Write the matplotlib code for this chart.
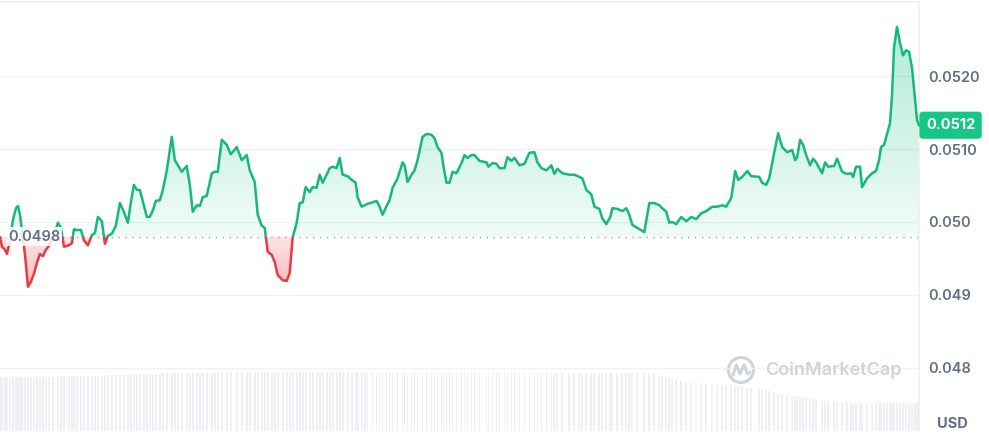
import numpy as np
import matplotlib
matplotlib.use("Agg")
import matplotlib.pyplot as plt
import matplotlib.colors as mcolors
from matplotlib.patches import Rectangle, Circle
from matplotlib.path import Path
from matplotlib.transforms import blended_transform_factory

plt.rcParams['font.family'] = ['Inter', 'DejaVu Sans']

# time steps (arbitrary units, left -> right) and price in USD
t = [0, 2, 5, 7, 10, 13, 16, 18, 20, 22,
     25, 28, 31, 34, 37, 40, 43, 46, 49, 53,
     58, 61, 64, 69, 72, 74, 77, 81, 84, 88,
     92, 95, 98, 102, 105, 108, 112, 116, 120, 124,
     128, 131, 134, 137, 140, 144, 147, 150, 153, 156,
     160, 163, 167, 172, 175, 178, 182, 187, 190, 193,
     197, 200, 203, 207, 212, 215, 218, 222, 227, 231,
     237, 242, 247, 250, 255, 258, 262, 265, 268, 272,
     275, 278, 283, 287, 290, 293, 297, 300, 303, 306,
     310, 313, 317, 320, 323, 327, 330, 333, 337, 340,
     343, 348, 352, 356, 358, 362, 365, 368, 373, 377,
     380, 383, 387, 390, 393, 398, 403, 405, 408, 412,
     415, 418, 423, 427, 432, 435, 438, 442, 444, 447,
     450, 453, 457, 462, 465, 468, 472, 475, 480, 487,
     489, 493, 497, 500, 505, 508, 512, 515, 520, 525,
     530, 535, 538, 542, 547, 552, 555, 558, 563, 570,
     575, 580, 583, 587, 592, 595, 600, 603, 607, 611,
     613, 618, 623, 627, 630, 633, 638, 645, 650, 655,
     660, 663, 667, 670, 673, 677, 682, 687, 692, 697,
     702, 707, 713, 718, 723, 727, 732, 736, 739, 743,
     748, 752, 760, 763, 767, 770, 775, 779, 783, 788,
     793, 796, 798, 801, 804, 807, 811, 814, 817, 823,
     826, 829, 835, 838, 843, 848, 852, 854, 857, 861,
     863, 868, 873, 877, 880, 882, 885, 888, 891, 893,
     895, 898, 901, 904, 907, 910, 913, 916, 918, 920]

price = [0.04979, 0.04966, 0.04962, 0.04956, 0.04975, 0.05003, 0.05019, 0.05022, 0.05010, 0.04989,
         0.04955, 0.04911, 0.04918, 0.04929, 0.04944, 0.04956, 0.04953, 0.04962, 0.04967, 0.04978,
         0.04999, 0.04992, 0.04966, 0.04968, 0.04971, 0.04990, 0.04989, 0.04989, 0.04975, 0.04968,
         0.04982, 0.04985, 0.05007, 0.05001, 0.04970, 0.04981, 0.04984, 0.04995, 0.05026, 0.05014,
         0.04999, 0.05027, 0.05051, 0.05044, 0.05044, 0.05023, 0.05007, 0.05007, 0.05016, 0.05029,
         0.05030, 0.05044, 0.05071, 0.05117, 0.05085, 0.05078, 0.05069, 0.05077, 0.05051, 0.05014,
         0.05023, 0.05022, 0.05034, 0.05036, 0.05067, 0.05069, 0.05069, 0.05113, 0.05106, 0.05093,
         0.05103, 0.05085, 0.05092, 0.05071, 0.05055, 0.05010, 0.04995, 0.04992, 0.04959, 0.04955,
         0.04945, 0.04927, 0.04920, 0.04919, 0.04930, 0.04979, 0.04999, 0.05026, 0.05027, 0.05048,
         0.05041, 0.05048, 0.05047, 0.05065, 0.05054, 0.05065, 0.05074, 0.05076, 0.05074, 0.05088,
         0.05065, 0.05063, 0.05058, 0.05054, 0.05034, 0.05021, 0.05023, 0.05025, 0.05027, 0.05029,
         0.05021, 0.05010, 0.05022, 0.05030, 0.05047, 0.05060, 0.05082, 0.05078, 0.05055, 0.05065,
         0.05071, 0.05085, 0.05117, 0.05121, 0.05120, 0.05115, 0.05103, 0.05095, 0.05076, 0.05054,
         0.05054, 0.05069, 0.05067, 0.05081, 0.05092, 0.05088, 0.05092, 0.05092, 0.05084, 0.05082,
         0.05076, 0.05081, 0.05080, 0.05074, 0.05074, 0.05089, 0.05084, 0.05088, 0.05078, 0.05080,
         0.05095, 0.05096, 0.05082, 0.05074, 0.05071, 0.05078, 0.05066, 0.05073, 0.05067, 0.05065,
         0.05065, 0.05062, 0.05060, 0.05044, 0.05038, 0.05021, 0.05018, 0.05005, 0.04997, 0.05007,
         0.05019, 0.05018, 0.05015, 0.05019, 0.05010, 0.04996, 0.04992, 0.04986, 0.05026, 0.05026,
         0.05023, 0.05019, 0.05014, 0.04999, 0.05000, 0.04997, 0.05007, 0.05001, 0.05007, 0.05004,
         0.05012, 0.05015, 0.05021, 0.05021, 0.05023, 0.05021, 0.05033, 0.05070, 0.05058, 0.05062,
         0.05070, 0.05063, 0.05062, 0.05054, 0.05051, 0.05060, 0.05095, 0.05122, 0.05103, 0.05096,
         0.05099, 0.05085, 0.05089, 0.05113, 0.05106, 0.05092, 0.05078, 0.05087, 0.05082, 0.05067,
         0.05082, 0.05076, 0.05077, 0.05087, 0.05069, 0.05066, 0.05067, 0.05062, 0.05076, 0.05076,
         0.05048, 0.05060, 0.05067, 0.05070, 0.05085, 0.05103, 0.05106, 0.05121, 0.05136, 0.05174,
         0.05240, 0.05268, 0.05246, 0.05229, 0.05236, 0.05234, 0.05212, 0.05168, 0.05140, 0.05133]

# 24h volume at each point (millions)
volume = [5.4, 5.4, 5.4, 5.4, 5.4, 5.4, 5.4, 5.4, 5.4, 5.4,
          5.4, 5.4, 5.4, 5.4, 5.4, 5.4, 5.4, 5.4, 5.4, 5.4,
          5.5, 5.5, 5.5, 5.5, 5.5, 5.5, 5.5, 5.5, 5.5, 5.5,
          5.5, 5.5, 5.5, 5.5, 5.5, 5.6, 5.6, 5.6, 5.6, 5.6,
          5.7, 5.7, 5.7, 5.7, 5.7, 5.7, 5.7, 5.7, 5.7, 5.7,
          5.8, 5.8, 5.8, 5.8, 5.8, 5.8, 5.8, 5.8, 5.8, 5.8,
          5.8, 5.8, 5.8, 5.8, 5.8, 5.8, 5.9, 5.9, 5.9, 5.9,
          5.9, 5.9, 5.9, 5.9, 5.9, 5.9, 5.9, 5.9, 5.9, 5.9,
          5.9, 5.9, 5.9, 5.9, 5.9, 5.9, 5.9, 5.9, 5.9, 5.9,
          5.9, 5.9, 5.9, 5.9, 5.9, 5.9, 5.9, 5.9, 5.9, 5.9,
          5.9, 5.9, 5.9, 5.9, 5.9, 5.9, 5.9, 5.9, 5.9, 5.9,
          5.9, 5.9, 5.9, 5.9, 5.9, 5.9, 5.9, 5.9, 5.8, 5.8,
          5.8, 5.8, 5.8, 5.8, 5.8, 5.8, 5.8, 5.8, 5.8, 5.8,
          5.8, 5.8, 5.8, 5.8, 5.8, 5.8, 5.8, 5.8, 5.8, 5.8,
          5.8, 5.8, 5.8, 5.8, 5.8, 5.8, 5.8, 5.8, 5.8, 5.8,
          5.8, 5.8, 5.8, 5.8, 5.8, 5.8, 5.8, 5.8, 5.8, 5.8,
          5.8, 5.8, 5.8, 5.8, 5.8, 5.8, 5.8, 5.8, 5.8, 5.8,
          5.8, 5.8, 5.8, 5.8, 5.8, 5.8, 5.8, 5.8, 5.7, 5.7,
          5.6, 5.5, 5.4, 5.3, 5.2, 5.1, 5.0, 4.9, 4.8, 4.8,
          4.7, 4.7, 4.7, 4.6, 4.6, 4.6, 4.6, 4.5, 4.5, 4.4,
          4.3, 4.3, 4.2, 4.1, 4.1, 4.0, 3.9, 3.8, 3.7, 3.6,
          3.5, 3.5, 3.4, 3.4, 3.3, 3.3, 3.2, 3.2, 3.1, 3.0,
          3.0, 3.0, 2.9, 2.9, 2.9, 2.9, 2.8, 2.8, 2.8, 2.8,
          2.8, 2.8, 2.8, 2.8, 2.8, 2.8, 2.8, 2.8, 2.8, 2.8,
          2.8, 2.8, 2.8, 2.8, 2.8, 2.8, 2.8, 2.8, 2.8, 2.8]

ref_price = 0.0498
y_ticks = [0.048, 0.049, 0.050, 0.051, 0.052]
y_labels = ['0.048', '0.049', '0.050', '0.0510', '0.0520']
last_label = '0.0512'

GREEN = '#16c784'
LINE_GREEN = '#16b97b'
RED = '#ea3943'
GRAY = '#616e85'

x = np.array(t, dtype=float)
y = np.array(price)

fig = plt.figure(figsize=(9.89, 4.38), dpi=100)
rect = [0, 7 / 438, 919 / 989, 429.5 / 438]

# volume bars in the background
axv = fig.add_axes(rect, zorder=0)
axv.bar(x, volume, width=1.8, color='#eef0f3', linewidth=0)
axv.set_xlim(0, 920)
axv.set_ylim(0, 43)
axv.axis('off')

ax = fig.add_axes(rect, zorder=1)
ax.patch.set_alpha(0)


def gradient_fill(ax, x, y, base, where, color, a_top, a_bottom, y0, y1):
    poly = ax.fill_between(x, y, base, where=where, interpolate=True,
                           facecolor='none', edgecolor='none')
    path = Path.make_compound_path(*poly.get_paths())
    grad = np.zeros((200, 1, 4))
    grad[:, 0, :3] = mcolors.to_rgb(color)
    grad[:, 0, 3] = np.linspace(a_top, a_bottom, 200)
    im = ax.imshow(grad, aspect='auto', origin='upper',
                   extent=[x.min(), x.max(), y0, y1], zorder=1)
    im.set_clip_path(path, transform=ax.transData)


gradient_fill(ax, x, y, ref_price, y >= ref_price, GREEN, 0.34, 0.06, ref_price, y.max())
gradient_fill(ax, x, y, ref_price, y <= ref_price, RED, 0.14, 0.34, y.min(), ref_price)

# line: green above reference, red below
for col, lo in [(LINE_GREEN, ref_price), (RED, ref_price - 0.01)]:
    ln, = ax.plot(x, y, color=col, lw=1.8, solid_joinstyle='round', zorder=3)
    clip = Rectangle((-10, lo), 1000, 0.01, transform=ax.transData)
    ln.set_clip_path(clip)

ax.axhline(ref_price, color='#9aa3b2', lw=1, linestyle=(0, (1, 4)), zorder=2)
ax.text(8, ref_price, '0.0498', ha='left', va='center', fontsize=10.5,
        color=GRAY, fontweight='semibold', zorder=4,
        bbox=dict(boxstyle='square,pad=0.15', fc='white', ec='none', alpha=0.85))

ax.set_xlim(0, 920)
ax.set_ylim(0.047128, 0.053030)
ax.set_xticks([])
ax.set_yticks(y_ticks)
ax.set_yticklabels(y_labels, fontweight='semibold')
ax.yaxis.tick_right()
ax.tick_params(axis='y', length=0, pad=7, labelsize=10.5, labelcolor=GRAY)
ax.grid(axis='y', color='#eff1f4', lw=1)
ax.set_axisbelow(True)
for s in ['left', 'bottom']:
    ax.spines[s].set_visible(False)
for s in ['top', 'right']:
    ax.spines[s].set_color('#eceff2')
    ax.spines[s].set_linewidth(1.2)

# last price badge
trans = blended_transform_factory(ax.transAxes, ax.transData)
ax.annotate(last_label, xy=(1, y[-1]), xycoords=trans, xytext=(5, 0),
            textcoords='offset points', ha='left', va='center', fontsize=10.5,
            color='white', fontweight='bold', annotation_clip=False, zorder=5,
            bbox=dict(boxstyle='round,pad=0.45,rounding_size=0.25', fc=GREEN, ec='none'))

fig.text(952 / 989, 14 / 438, 'USD', ha='center', va='center', fontsize=10.5,
         fontweight='bold', color=GRAY)

# watermark
wm = '#cfd4db'
fig.text(765 / 989, 68 / 438, 'CoinMarketCap', ha='left', va='center',
         fontsize=13, fontweight='semibold', color=wm)
fig.add_artist(Circle((7.41, 0.68), 0.125, transform=fig.dpi_scale_trans,
                      fill=False, ec=wm, lw=2.2))
fig.add_artist(plt.Line2D([7.33, 7.365, 7.40, 7.44, 7.475, 7.50],
                          [0.63, 0.73, 0.64, 0.73, 0.64, 0.66],
                          transform=fig.dpi_scale_trans, color=wm, lw=2.2,
                          solid_joinstyle='round', solid_capstyle='round'))

fig.savefig('out.png', dpi=100)
